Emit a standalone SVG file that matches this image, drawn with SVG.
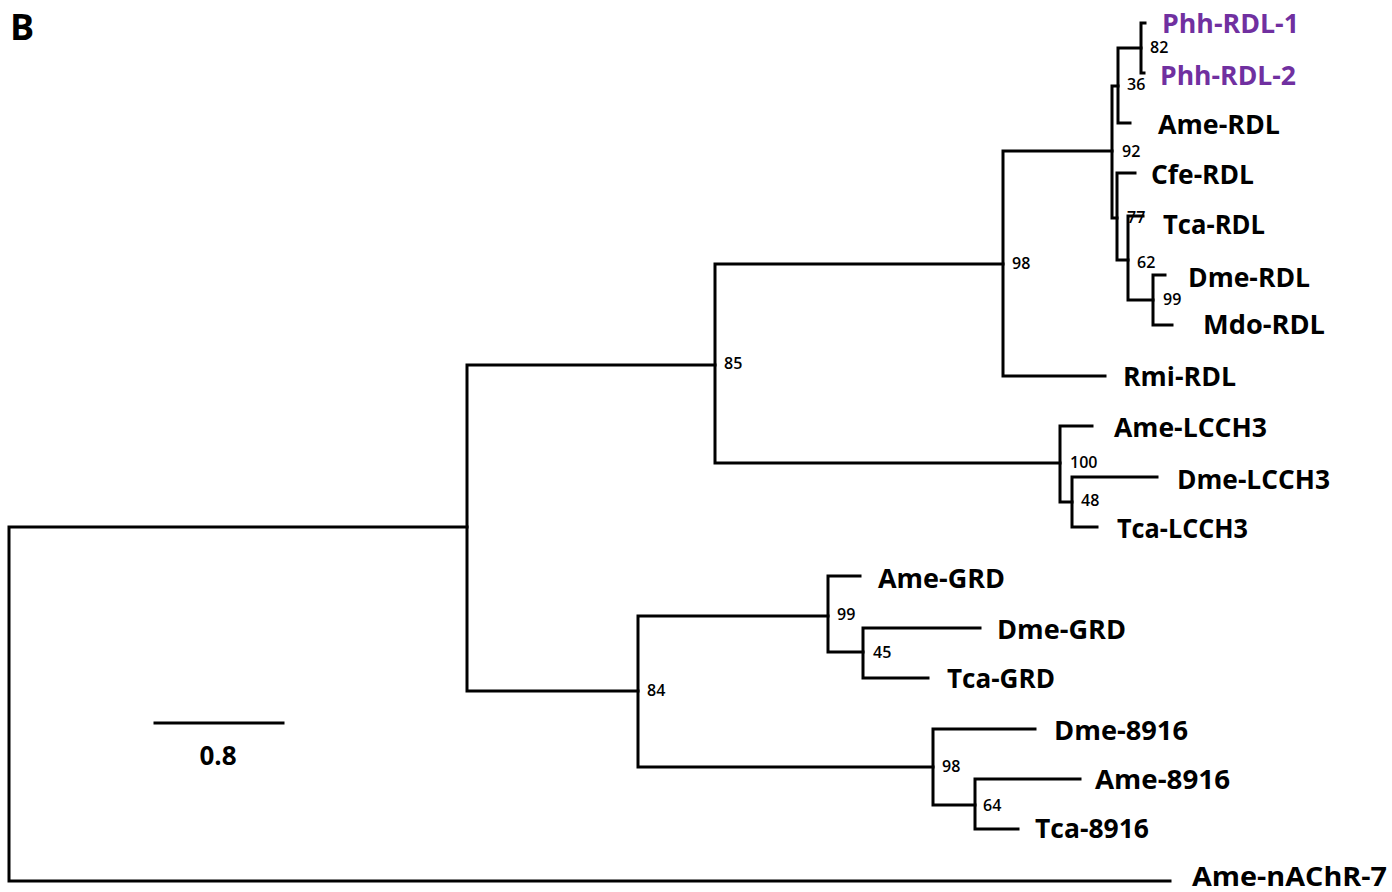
<svg xmlns="http://www.w3.org/2000/svg" width="1392" height="892" viewBox="0 0 1392 892">
<style>
.br{fill:none;stroke:#000;stroke-width:3;stroke-linecap:square}
.tip{font-family:"Open Sans","Liberation Sans",sans-serif;font-weight:700;font-size:27px;fill:#000}
.ph{fill:#7030A0}
.bs{font-family:"Open Sans","Liberation Sans",sans-serif;font-weight:600;font-size:16px;fill:#000}
</style>
<rect width="1392" height="892" fill="#fff"/>
<text x="10" y="40" font-family="Open Sans, Liberation Sans, sans-serif" font-weight="700" font-size="36">B</text>
<g id="connectors" class="br">
<path d="M9 527V881H1170M9 527H467"/>
<path d="M467 365V691M467 365H715M467 691H638"/>
<path d="M715 264V463M715 264H1003M715 463H1060"/>
<path d="M1003 151V376M1003 151H1112M1003 376H1105"/>
<path d="M1112 86V218M1112 86H1118M1112 218H1117"/>
<path d="M1118 48V123M1118 48H1141M1118 123H1130"/>
<path d="M1141 23V73M1141 23H1145M1141 73H1144"/>
<path d="M1117 173V260M1117 173H1135M1117 260H1128"/>
<path d="M1128 216V300M1128 216H1143M1128 300H1153"/>
<path d="M1153 275V325M1153 275H1165M1153 325H1172"/>
<path d="M1060 426V502M1060 426H1092M1060 502H1072"/>
<path d="M1072 477V527M1072 477H1157M1072 527H1097"/>
<path d="M638 616V767M638 616H828M638 767H933"/>
<path d="M828 576V652M828 576H860M828 652H863"/>
<path d="M863 628V678M863 628H980M863 678H928"/>
<path d="M933 729V805M933 729H1035M933 805H975"/>
<path d="M975 779V829M975 779H1080M975 829H1018"/>
<path d="M155 723H283"/>
</g>
<g id="tips">
<g id="phh-rdl-1"><text class="tip ph" x="1162" y="33" textLength="137" lengthAdjust="spacingAndGlyphs">Phh-RDL-1</text></g>
<g id="phh-rdl-2"><text class="tip ph" x="1160" y="85" textLength="136" lengthAdjust="spacingAndGlyphs">Phh-RDL-2</text></g>
<g id="ame-rdl"><text class="tip" x="1158" y="134" textLength="122" lengthAdjust="spacingAndGlyphs">Ame-RDL</text></g>
<g id="cfe-rdl"><text class="tip" x="1151" y="184" textLength="103" lengthAdjust="spacingAndGlyphs">Cfe-RDL</text></g>
<g id="tca-rdl"><text class="tip" x="1163" y="234" textLength="102" lengthAdjust="spacingAndGlyphs">Tca-RDL</text></g>
<g id="dme-rdl"><text class="tip" x="1188" y="287" textLength="122" lengthAdjust="spacingAndGlyphs">Dme-RDL</text></g>
<g id="mdo-rdl"><text class="tip" x="1203" y="334" textLength="122" lengthAdjust="spacingAndGlyphs">Mdo-RDL</text></g>
<g id="rmi-rdl"><text class="tip" x="1123" y="386" textLength="113" lengthAdjust="spacingAndGlyphs">Rmi-RDL</text></g>
<g id="ame-lcch3"><text class="tip" x="1114" y="437" textLength="153" lengthAdjust="spacingAndGlyphs">Ame-LCCH3</text></g>
<g id="dme-lcch3"><text class="tip" x="1177" y="489" textLength="153" lengthAdjust="spacingAndGlyphs">Dme-LCCH3</text></g>
<g id="tca-lcch3"><text class="tip" x="1117" y="538" textLength="131" lengthAdjust="spacingAndGlyphs">Tca-LCCH3</text></g>
<g id="ame-grd"><text class="tip" x="878" y="588" textLength="127" lengthAdjust="spacingAndGlyphs">Ame-GRD</text></g>
<g id="dme-grd"><text class="tip" x="997" y="639" textLength="129" lengthAdjust="spacingAndGlyphs">Dme-GRD</text></g>
<g id="tca-grd"><text class="tip" x="947" y="688" textLength="108" lengthAdjust="spacingAndGlyphs">Tca-GRD</text></g>
<g id="dme-8916"><text class="tip" x="1054" y="740" textLength="134" lengthAdjust="spacingAndGlyphs">Dme-8916</text></g>
<g id="ame-8916"><text class="tip" x="1095" y="789" textLength="135" lengthAdjust="spacingAndGlyphs">Ame-8916</text></g>
<g id="tca-8916"><text class="tip" x="1035" y="838" textLength="114" lengthAdjust="spacingAndGlyphs">Tca-8916</text></g>
<g id="ame-nachr-7"><text class="tip" x="1192" y="886" textLength="195" lengthAdjust="spacingAndGlyphs">Ame-nAChR-7</text></g>
</g>
<g id="support">
<text class="bs" x="1150" y="53">82</text>
<text class="bs" x="1127" y="90">36</text>
<text class="bs" x="1122" y="157">92</text>
<text class="bs" x="1127" y="223">77</text>
<text class="bs" x="1137" y="268">62</text>
<text class="bs" x="1163" y="305">99</text>
<text class="bs" x="1012" y="269">98</text>
<text class="bs" x="724" y="369">85</text>
<text class="bs" x="1070" y="468">100</text>
<text class="bs" x="1081" y="506">48</text>
<text class="bs" x="837" y="620">99</text>
<text class="bs" x="873" y="658">45</text>
<text class="bs" x="647" y="696">84</text>
<text class="bs" x="942" y="772">98</text>
<text class="bs" x="983" y="811">64</text>
</g>
<g id="scale"><text x="218" y="765" text-anchor="middle" font-family="Open Sans, Liberation Sans, sans-serif" font-weight="700" font-size="26">0.8</text></g>
</svg>
